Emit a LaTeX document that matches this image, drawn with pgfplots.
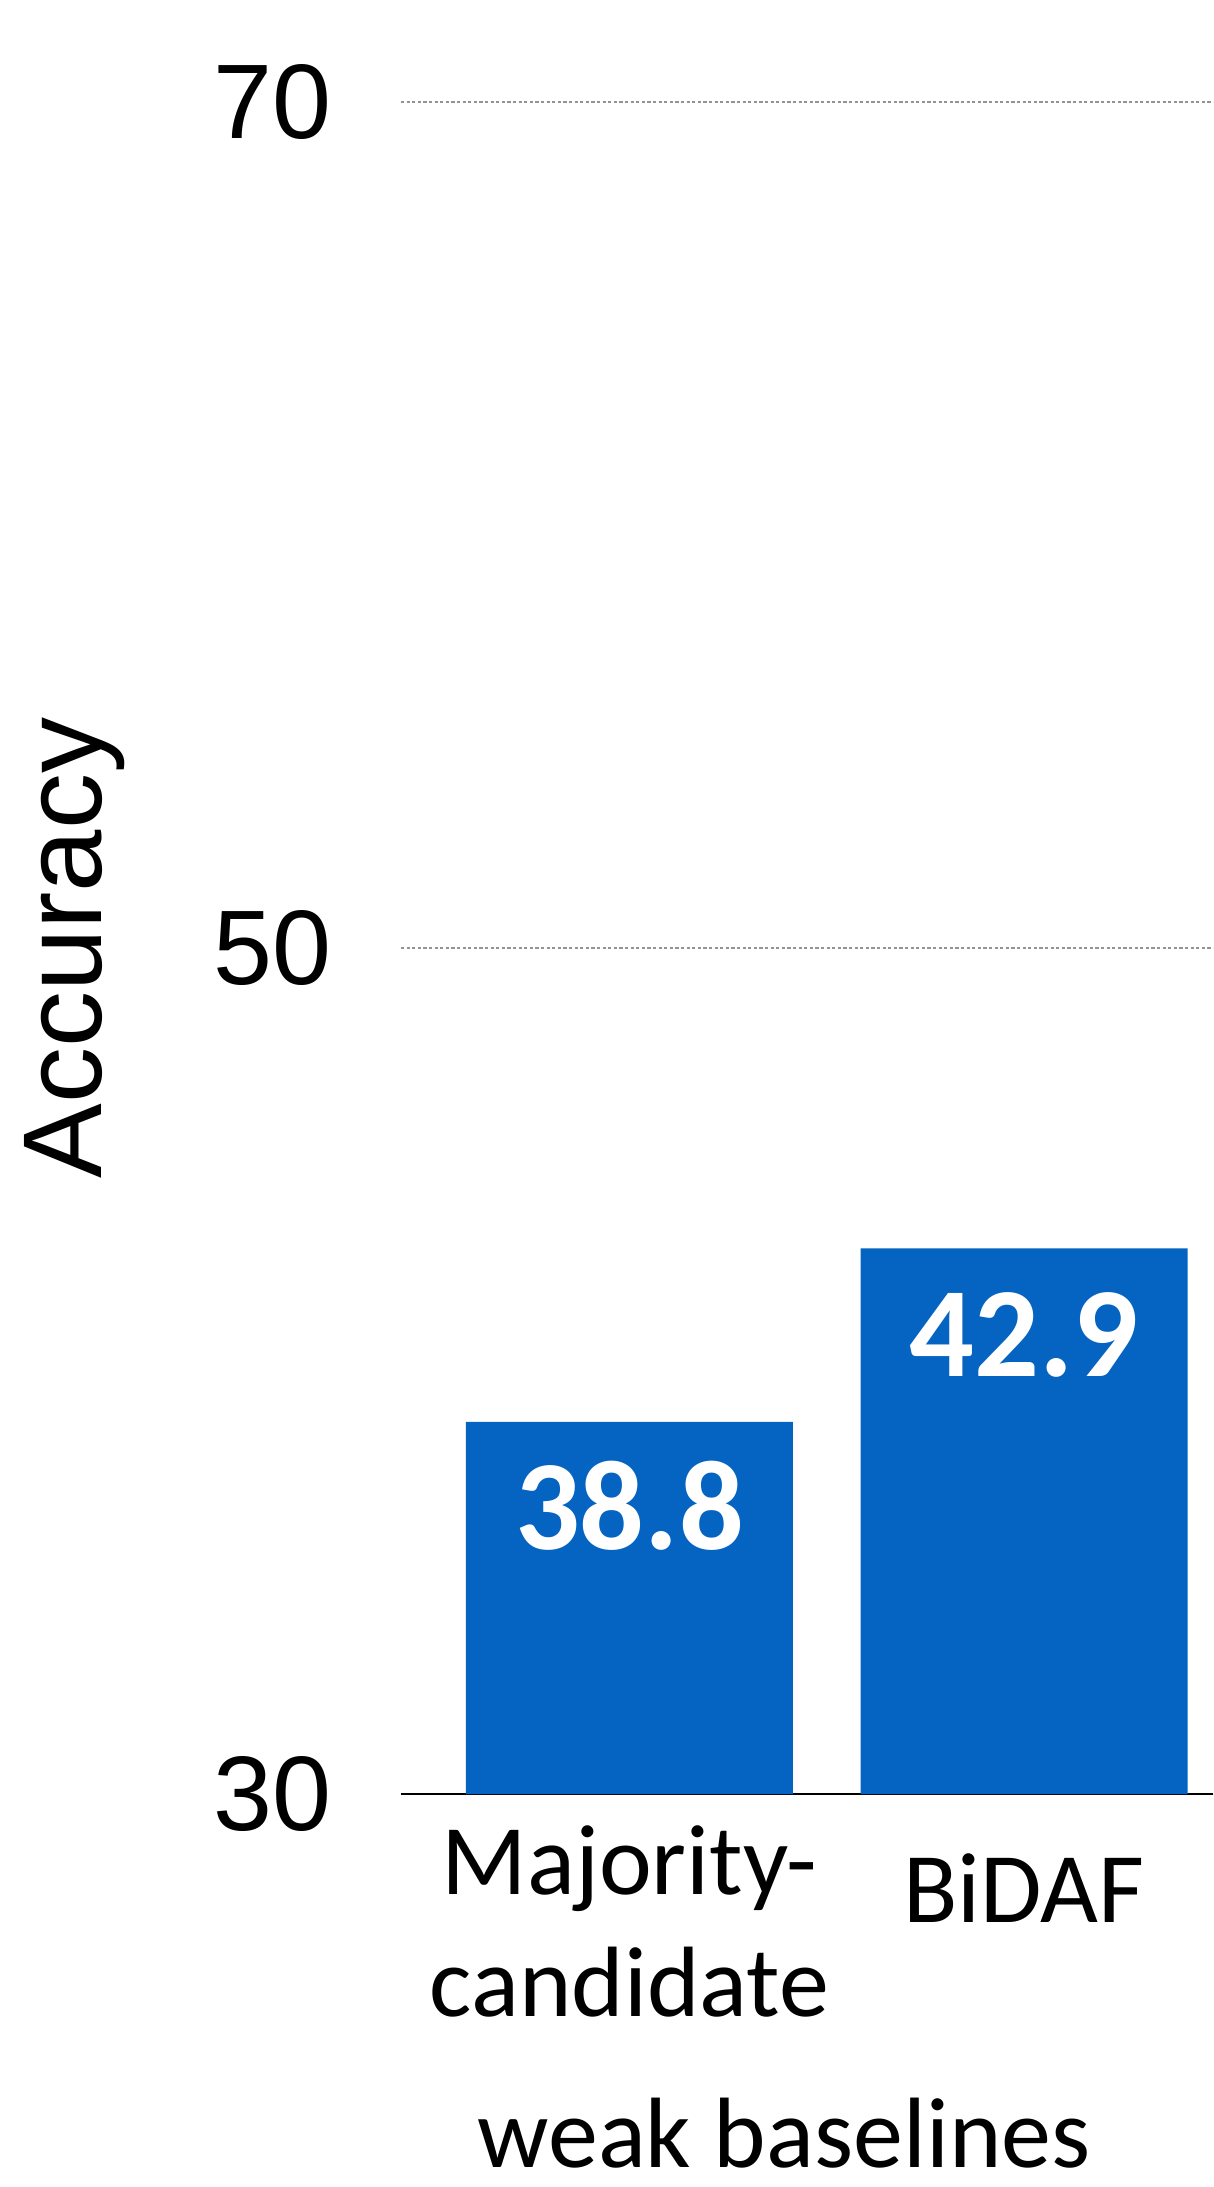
\documentclass[border=0pt]{standalone}
\usepackage{fontspec}
\setmainfont{Carlito}
\newfontfamily\arialfont{Liberation Sans}
\usepackage{pgfplots}
\pgfplotsset{compat=1.18}
\definecolor{barblue}{HTML}{0563C1}

\begin{document}
\begin{tikzpicture}
\useasboundingbox (0,0) rectangle (303.25pt,546.75pt);
\begin{axis}[
  at={(100.25pt,98.25pt)}, anchor=south west,
  scale only axis, width=203pt, height=423pt,
  ybar, bar width=81.75pt,
  xmin=-0.579, xmax=1.479, ymin=30, ymax=70,
  xtick={0,1},
  xticklabels={{Majority-\\candidate},{\raisebox{-7pt}[\height]{BiDAF}}},
  ytick={30,50,70},
  ymajorgrids,
  major grid style={gray!85, line width=0.6pt, dash pattern=on 0.8pt off 0.6pt},
  axis lines*=left,
  y axis line style={draw=none},
  x axis line style={black, line width=0.6pt},
  major tick length=0pt,
  /pgf/number format/assume math mode=true,
  yticklabel style={font=\arialfont\fontsize{26.5}{30}\selectfont, anchor=east, inner sep=0pt, xshift=-17.25pt},
  xticklabel style={font=\fontsize{25}{30.5}\selectfont, align=center, anchor=north, inner sep=0pt, yshift=-7.6pt},
  ylabel={Accuracy},
  every axis y label/.style={at={(axis description cs:-0.402,0.5)}, rotate=90, anchor=center, font=\arialfont\fontsize{28}{32}\selectfont},
  xlabel={weak baselines},
  every axis x label/.style={at={(axis description cs:0.4717,-0.221)}, anchor=base, font=\fontsize{25}{30}\selectfont},
  nodes near coords,
  every node near coord/.append style={anchor=base, yshift=-32pt, text=white, font=\bfseries\fontsize{32}{36}\selectfont},
]
% accuracy of the two weak baselines
\addplot[fill=barblue, draw=none] coordinates {(0,38.8) (1,42.9)};
\end{axis}
\end{tikzpicture}
\end{document}
